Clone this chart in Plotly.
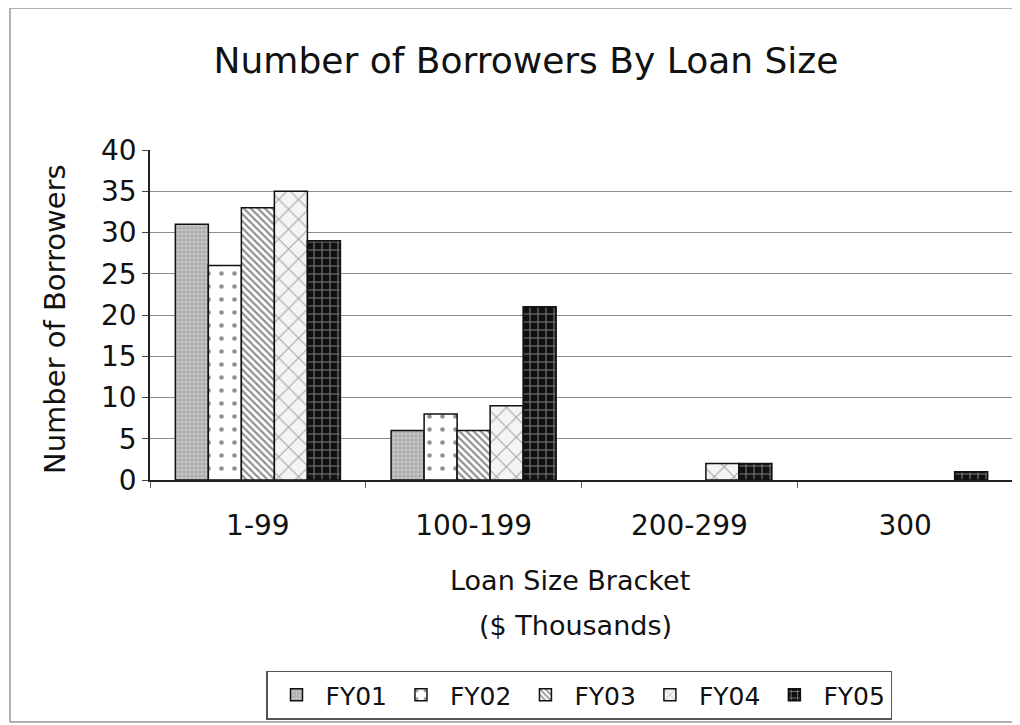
import plotly.graph_objects as go

categories = ["1-99", "100-199", "200-299", "300"]
series_names = ["FY01", "FY02", "FY03", "FY04", "FY05"]
fy01 = [31, 6, 0, 0]
fy02 = [26, 8, 0, 0]
fy03 = [33, 6, 0, 0]
fy04 = [35, 9, 2, 0]
fy05 = [29, 21, 2, 1]
values = [fy01, fy02, fy03, fy04, fy05]

patterns = [
    dict(shape=".", bgcolor="#c4c4c4", fgcolor="#8f8f8f", size=4, solidity=0.5),
    dict(shape=".", bgcolor="white", fgcolor="#222222", size=13, solidity=0.1),
    dict(shape="\\", bgcolor="white", fgcolor="#222222", size=5, solidity=0.45),
    dict(shape="x", bgcolor="#f4f4f4", fgcolor="#555555", size=14, solidity=0.15),
    dict(shape="+", bgcolor="#111111", fgcolor="#e8e8e8", size=8, solidity=0.25),
]

FONT = "DejaVu Sans, Arial, sans-serif"

# figure sits at an 8px page offset; plot area spans page x 150..1013, y 150..480
W, H = 1012, 717
L, T, R, B = 142, 142, 7, 245
PW, PH = W - L - R, H - T - B

def px_x(page_x):
    return (page_x - 8 - L) / PW

def px_y(page_y):
    return (T + PH - (page_y - 8)) / PH

fig = go.Figure()
for name, vals, pat in zip(series_names, values, patterns):
    fig.add_trace(go.Bar(
        x=categories, y=vals, name=name,
        marker=dict(color=pat["bgcolor"], pattern=pat,
                    line=dict(color="#111111", width=[1.5 if v else 0 for v in vals])),
    ))

fig.update_layout(
    width=W, height=H,
    paper_bgcolor="white", plot_bgcolor="white",
    barmode="group", bargap=0.235, bargroupgap=0,
    margin=dict(l=L, r=R, t=T, b=B, autoexpand=False),
    font=dict(family=FONT, color="#111111"),
    title=dict(text="Number of Borrowers By Loan Size", x=(526 - 8) / W, xanchor="center",
               y=1 - (60 - 8) / H, yanchor="middle", font=dict(size=36, family=FONT)),
    showlegend=True,
    legend=dict(orientation="h", x=px_x(579), xanchor="center", y=px_y(695), yanchor="middle",
                font=dict(size=25, family=FONT), bordercolor="#555555", borderwidth=1.5,
                itemwidth=48, tracegroupgap=0),
    xaxis=dict(showline=True, linecolor="#222222", linewidth=1.5,
               ticks="outside", tickson="boundaries", ticklen=6, tickcolor="#666666",
               tickfont=dict(size=28, family=FONT), showgrid=False,
               ticklabelstandoff=20, automargin=False),
    yaxis=dict(range=[0, 40], dtick=5, showline=True, linecolor="#222222", linewidth=1.5,
               ticks="outside", ticklen=6, tickcolor="#444444",
               tickfont=dict(size=28, family=FONT), showgrid=True, gridcolor="#8c8c8c",
               gridwidth=1, zeroline=False, automargin=False),
)

fig.add_annotation(text="Number of Borrowers", textangle=-90, xref="paper", yref="paper",
                   x=px_x(55), y=px_y(476), xanchor="center", yanchor="bottom",
                   showarrow=False, font=dict(size=29, family=FONT))
fig.add_annotation(text="Loan Size Bracket", xref="paper", yref="paper", x=px_x(570), y=px_y(580),
                   yanchor="middle", showarrow=False, font=dict(size=27, family=FONT))
fig.add_annotation(text="($ Thousands)", xref="paper", yref="paper", x=px_x(575), y=px_y(625),
                   yanchor="middle", showarrow=False, font=dict(size=27, family=FONT))
fig.add_shape(type="rect", xref="paper", yref="paper",
              x0=px_x(10), x1=px_x(1015), y0=px_y(722), y1=px_y(8),
              line=dict(color="#999999", width=1.5))

fig.write_html("out.html")
